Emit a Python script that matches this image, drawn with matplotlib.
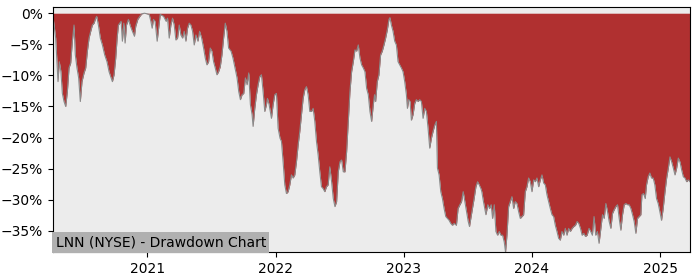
import numpy as np
import pandas as pd
import matplotlib
matplotlib.use("Agg")
import matplotlib.pyplot as plt
import matplotlib.dates as mdates
from matplotlib.ticker import PercentFormatter

title = "LNN (NYSE) - Drawdown Chart"

# time as decimal years, drawdown in percent
years = [
    2020.266, 2020.287, 2020.297, 2020.305, 2020.315, 2020.328, 2020.339, 2020.352, 2020.365, 2020.378,
    2020.391, 2020.404, 2020.417, 2020.430, 2020.440, 2020.453, 2020.466, 2020.479, 2020.492, 2020.508,
    2020.521, 2020.534, 2020.547, 2020.560, 2020.573, 2020.586, 2020.599, 2020.607, 2020.620, 2020.635,
    2020.651, 2020.669, 2020.687, 2020.703, 2020.716, 2020.729, 2020.742, 2020.755, 2020.766, 2020.776,
    2020.786, 2020.797, 2020.807, 2020.818, 2020.828, 2020.839, 2020.854, 2020.870, 2020.885, 2020.901,
    2020.911, 2020.927, 2020.943, 2020.958, 2020.979, 2021.000, 2021.016, 2021.029, 2021.039, 2021.049,
    2021.062, 2021.078, 2021.091,
    2021.102, 2021.128, 2021.148, 2021.159, 2021.172, 2021.185, 2021.198, 2021.211, 2021.224, 2021.237,
    2021.250, 2021.263, 2021.276, 2021.289, 2021.302, 2021.315, 2021.328, 2021.341, 2021.354, 2021.367,
    2021.380, 2021.396, 2021.409, 2021.425, 2021.440, 2021.453, 2021.466, 2021.479, 2021.492, 2021.505,
    2021.518, 2021.531, 2021.544, 2021.557, 2021.570, 2021.583, 2021.596, 2021.609, 2021.622, 2021.635,
    2021.654, 2021.669, 2021.685, 2021.701, 2021.714, 2021.727, 2021.740, 2021.753, 2021.766, 2021.779,
    2021.792, 2021.805, 2021.818, 2021.826, 2021.839, 2021.852, 2021.865, 2021.878, 2021.891, 2021.904,
    2021.917, 2021.930,
    2021.938, 2021.951, 2021.969, 2021.982, 2021.995, 2022.008, 2022.021, 2022.036, 2022.047, 2022.060,
    2022.073, 2022.086, 2022.099, 2022.112, 2022.125, 2022.138, 2022.151, 2022.164, 2022.177, 2022.190,
    2022.203, 2022.216, 2022.229, 2022.242, 2022.255, 2022.268, 2022.281, 2022.294, 2022.307, 2022.320,
    2022.333, 2022.346, 2022.359, 2022.372, 2022.385, 2022.398, 2022.411, 2022.424, 2022.438, 2022.451,
    2022.464, 2022.477, 2022.490, 2022.503, 2022.516, 2022.529, 2022.542, 2022.555, 2022.568, 2022.581,
    2022.594, 2022.607, 2022.620, 2022.633, 2022.646, 2022.659, 2022.672, 2022.685, 2022.698, 2022.711,
    2022.724, 2022.737, 2022.750, 2022.763,
    2022.773, 2022.781, 2022.794, 2022.807, 2022.820, 2022.833, 2022.846, 2022.859, 2022.872, 2022.885,
    2022.893, 2022.904, 2022.917, 2022.930, 2022.943, 2022.956, 2022.969, 2022.982, 2022.995, 2023.008,
    2023.021, 2023.029, 2023.039, 2023.050, 2023.060, 2023.073, 2023.086, 2023.099, 2023.112, 2023.125,
    2023.138, 2023.151, 2023.164, 2023.177, 2023.190, 2023.203, 2023.216, 2023.229, 2023.242, 2023.255,
    2023.263, 2023.276, 2023.289, 2023.302, 2023.315, 2023.328, 2023.341, 2023.354, 2023.367, 2023.380,
    2023.393, 2023.411, 2023.424, 2023.438, 2023.451, 2023.464, 2023.477, 2023.490, 2023.503, 2023.513,
    2023.523, 2023.536, 2023.549, 2023.563, 2023.576, 2023.589, 2023.602,
    2023.609, 2023.622, 2023.641, 2023.656, 2023.669, 2023.682, 2023.693, 2023.706, 2023.719, 2023.732,
    2023.745, 2023.758, 2023.771, 2023.784, 2023.794, 2023.805, 2023.818, 2023.831, 2023.844, 2023.857,
    2023.870, 2023.883, 2023.896, 2023.909, 2023.922, 2023.935, 2023.948, 2023.961, 2023.974, 2023.987,
    2024.000, 2024.013, 2024.026, 2024.039, 2024.052, 2024.065, 2024.078, 2024.091, 2024.104, 2024.117,
    2024.130, 2024.143, 2024.156, 2024.169, 2024.182, 2024.195, 2024.208, 2024.221, 2024.234, 2024.247,
    2024.260, 2024.273, 2024.286, 2024.299, 2024.313, 2024.326, 2024.339, 2024.352, 2024.365, 2024.378,
    2024.391, 2024.404, 2024.417, 2024.430,
    2024.445, 2024.458, 2024.471, 2024.484, 2024.497, 2024.510, 2024.523, 2024.537, 2024.550, 2024.563,
    2024.576, 2024.589, 2024.602, 2024.615, 2024.628, 2024.641, 2024.654, 2024.667, 2024.680, 2024.693,
    2024.706, 2024.719, 2024.732, 2024.745, 2024.758, 2024.771, 2024.784, 2024.797, 2024.810, 2024.823,
    2024.836, 2024.849, 2024.857, 2024.870, 2024.883, 2024.893, 2024.906, 2024.919, 2024.932, 2024.945,
    2024.958, 2024.971, 2024.984, 2024.997, 2025.010, 2025.023, 2025.037, 2025.050, 2025.063, 2025.076,
    2025.089, 2025.102, 2025.115, 2025.128, 2025.141, 2025.154, 2025.167, 2025.180, 2025.193, 2025.206,
    2025.219, 2025.232,
]

drawdown = [
    -0.5, -4.0, -7.8, -11.0, -7.8, -9.4, -12.9, -14.2, -15.0, -12.6,
    -8.8, -8.0, -4.5, -1.9, -6.7, -8.8, -10.4, -14.2, -11.0, -9.6,
    -8.8, -6.1, -4.0, -2.9, -1.9, -1.6, -0.8, -0.5, -1.9, -4.0,
    -5.1, -6.7, -7.8, -9.4, -10.2, -11.0, -9.9, -7.2, -4.0, -1.9,
    -1.6, -1.3, -4.5, -1.6, -4.8, -1.9, -1.0, -2.1, -2.9, -3.7,
    -2.1, -1.0, -0.5, -0.1, 0.0, -0.1, -0.2, -1.3, -2.4, -1.0,
    -1.3, -4.5, -2.1,
    -0.2, -0.5, -1.3, -0.8, -4.0, -1.9, -0.8, -1.9, -4.3, -4.0,
    -1.9, -3.5, -4.0, -2.9, -4.5, -2.4, -1.6, -1.9, -2.9, -5.1,
    -3.5, -4.5, -2.9, -4.0, -5.6, -7.2, -8.3, -7.8, -5.6, -6.1,
    -7.8, -8.8, -9.9, -9.4, -8.6, -6.7, -4.0, -1.6, -2.9, -5.6,
    -6.1, -7.2, -8.8, -10.4, -12.6, -13.9, -13.1, -12.9, -10.4, -11.5,
    -9.6, -14.7, -16.3, -18.2, -15.3, -13.1, -11.5, -10.2, -9.9, -12.6,
    -15.8, -14.7,
    -13.7, -14.7, -16.9, -14.7, -13.1, -12.9, -18.5, -20.1, -20.6, -23.9,
    -27.6, -29.0, -28.7, -27.6, -26.0, -26.5, -26.0, -23.9, -21.2, -19.0,
    -16.3, -13.7, -12.3, -11.8, -13.1, -15.8, -15.8, -15.3, -17.4, -20.6,
    -22.8, -25.5, -27.9, -28.2, -28.7, -27.9, -27.6, -24.7, -27.1, -29.8,
    -31.1, -30.3, -25.5, -23.9, -23.6, -25.5, -25.5, -22.3, -17.4, -12.6,
    -9.4, -7.8, -5.9, -6.1, -5.1, -7.2, -8.3, -8.8, -9.4, -12.1,
    -13.1, -15.8, -17.4, -14.7,
    -13.1, -14.2, -11.0, -9.9, -6.7, -6.1, -5.1, -4.0, -2.7, -1.0,
    -0.7, -1.9, -2.9, -4.5, -5.1, -7.8, -8.3, -8.8, -9.4, -11.0,
    -13.1, -15.3, -13.9, -14.2, -17.2, -16.3, -14.5, -13.9, -14.2, -13.9,
    -14.2, -16.9, -15.3, -15.8, -18.5, -21.7, -20.1, -19.0, -18.0, -17.4,
    -24.9, -26.0, -28.7, -29.8, -31.4, -32.7, -33.0, -33.3, -33.8, -34.1,
    -33.8, -34.1, -31.4, -30.8, -30.3, -28.7, -30.3, -31.9, -33.5, -34.3,
    -33.0, -31.4, -29.8, -27.9, -27.1, -27.6, -28.2,
    -28.7, -30.3, -32.4, -30.8, -31.4, -30.8, -33.0, -30.8, -35.1, -35.7,
    -35.1, -35.7, -35.7, -36.8, -38.4, -35.7, -31.1, -30.3, -29.5, -31.4,
    -30.3, -30.6, -31.9, -33.0, -32.7, -32.4, -28.7, -27.9, -26.5, -27.1,
    -28.7, -26.8, -27.1, -26.5, -27.9, -26.8, -26.0, -27.3, -27.6, -29.2,
    -30.3, -31.4, -32.4, -32.7, -34.1, -35.1, -36.2, -36.5, -35.1, -35.7,
    -34.6, -35.7, -34.6, -35.1, -34.6, -34.3, -34.1, -33.5, -33.8, -34.6,
    -35.7, -35.4, -35.9, -35.7,
    -34.6, -35.1, -35.7, -32.7, -35.7, -35.1, -37.0, -34.6, -32.4, -33.0,
    -30.6, -31.9, -33.5, -34.6, -32.2, -31.6, -31.1, -30.8, -33.0, -34.9,
    -32.4, -30.8, -30.6, -30.8, -30.8, -31.4, -32.4, -33.5, -35.4, -33.0,
    -32.7, -32.4, -29.2, -29.0, -29.8, -27.6, -26.3, -25.7, -26.5, -26.5,
    -27.6, -29.8, -30.6, -31.9, -33.3, -31.4, -28.7, -26.5, -24.9, -23.1,
    -23.9, -24.9, -26.0, -24.9, -23.3, -23.9, -25.2, -26.3, -26.5, -27.1,
    -26.8, -27.1,
]

yticks = [0, -5, -10, -15, -20, -25, -30, -35]

yrs = np.array(years)
dates = pd.to_datetime("2020-01-01") + pd.to_timedelta((yrs - 2020) * 365.25, unit="D")
dd = np.array(drawdown)

fig = plt.figure(figsize=(7, 2.8), dpi=100)
ax = fig.add_axes([0.0757, 0.1, 0.91, 0.875])
ax.set_facecolor("#ececec")

ax.fill_between(dates, dd, 0, color="#b03030", linewidth=0)
ax.plot(dates, dd, color="#8a8a8a", linewidth=0.8)

ax.set_xlim(dates[0], dates[-1])
ax.set_ylim(dd.min(), 1.0)
ax.set_yticks(yticks)
ax.yaxis.set_major_formatter(PercentFormatter(xmax=100, decimals=0))
ax.xaxis.set_major_locator(mdates.YearLocator())
ax.xaxis.set_major_formatter(mdates.DateFormatter("%Y"))
ax.tick_params(labelsize=10)

ax.text(0.004, 0.012, title, transform=ax.transAxes, fontsize=10, ha="left", va="bottom",
        bbox=dict(boxstyle="square,pad=0.25", facecolor="#b0b0b0", edgecolor="none"))

fig.savefig("out.png", dpi=100)
